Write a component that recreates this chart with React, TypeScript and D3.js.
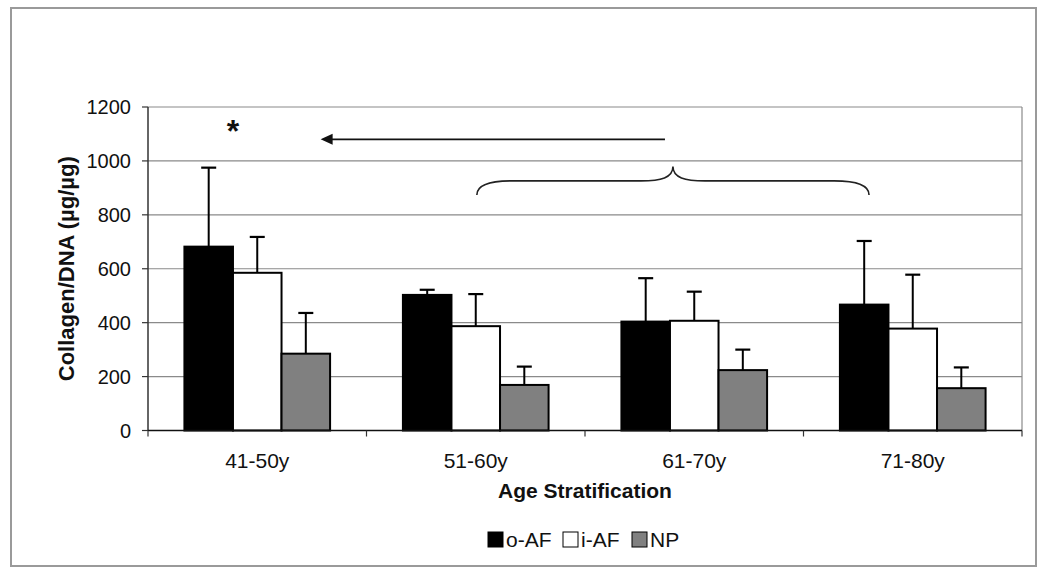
import React from "react";
import * as d3 from "d3";

const categories = ["41-50y", "51-60y", "61-70y", "71-80y"];
const seriesNames = ["o-AF", "i-AF", "NP"];
const oAF = [682, 503, 404, 467];
const oAFErr = [293, 19, 161, 236];
const iAF = [585, 387, 407, 378];
const iAFErr = [133, 119, 108, 200];
const NP = [285, 169, 224, 157];
const NPErr = [151, 68, 76, 77];
const yTicks = [0, 200, 400, 600, 800, 1000, 1200];
const yTitle = "Collagen/DNA (µg/µg)";
const xTitle = "Age Stratification";

// annotations (in data units: x in category-index units, y in value units)
const arrowFrom = { x: 2.366, y: 1080 };
const arrowTo = { x: 0.79, y: 1080 };
const braceSpan = { x0: 1.505, x1: 3.3, yEnd: 874, yMid: 926, yTip: 979 };
const starPos = { x: 0.389, y: 1130 };

const W = 1050;
const H = 581;
const FONT = "'Liberation Sans', Arial, Helvetica, sans-serif";
const colors = ["#000000", "#ffffff", "#808080"];

export default function App() {
  const left = 148;
  const right = 1022;
  const top = 107;
  const bottom = 430.5;
  const x0 = d3.scaleBand<string>().domain(categories).range([left, right]).padding(0);
  const bw = x0.bandwidth();
  const gap = (bw * 1.5) / 4.5;
  const x1 = d3.scaleBand<string>().domain(seriesNames).range([gap / 2, bw - gap / 2]).padding(0);
  const y = d3.scaleLinear().domain([0, 1200]).range([bottom, top]);
  const xc = d3.scaleLinear().domain([0, categories.length]).range([left, right]);

  const data = [
    { name: seriesNames[0], vals: oAF, errs: oAFErr, color: colors[0] },
    { name: seriesNames[1], vals: iAF, errs: iAFErr, color: colors[1] },
    { name: seriesNames[2], vals: NP, errs: NPErr, color: colors[2] },
  ];

  const capW = 15;

  const bx0 = xc(braceSpan.x0);
  const bx1 = xc(braceSpan.x1);
  const bm = (bx0 + bx1) / 2;
  const yE = y(braceSpan.yEnd);
  const yM = y(braceSpan.yMid);
  const yT = y(braceSpan.yTip);
  const bracePath = d3.path();
  bracePath.moveTo(bx0, yE);
  bracePath.bezierCurveTo(bx0, yM + 4, bx0 + 12, yM, bx0 + 35, yM);
  bracePath.lineTo(bm - 32, yM);
  bracePath.bezierCurveTo(bm - 12, yM, bm, yM - 3, bm, yT);
  bracePath.bezierCurveTo(bm, yM - 3, bm + 12, yM, bm + 32, yM);
  bracePath.lineTo(bx1 - 35, yM);
  bracePath.bezierCurveTo(bx1 - 12, yM, bx1, yM + 4, bx1, yE);

  const ax0 = xc(arrowFrom.x);
  const ax1 = xc(arrowTo.x);
  const ay = y(arrowFrom.y);

  const legendItems = [
    { name: seriesNames[0], color: colors[0], x: 488 },
    { name: seriesNames[1], color: colors[1], x: 563 },
    { name: seriesNames[2], color: colors[2], x: 632 },
  ];

  return (
    <svg
      width={W}
      height={H}
      style={{ position: "absolute", left: 0, top: 0, background: "#fff" }}
      fontFamily={FONT}
    >
      <rect x={0} y={0} width={W} height={H} fill="#fff" />
      <rect x={11} y={8} width={1025} height={558} fill="none" stroke="#9a9a9a" strokeWidth={2} />

      {yTicks.map((t) => (
        <line key={"g" + t} x1={left} x2={right} y1={y(t)} y2={y(t)} stroke="#8a8a8a" strokeWidth={1.2} />
      ))}
      <line x1={right} x2={right} y1={top} y2={bottom} stroke="#8a8a8a" strokeWidth={1.2} />

      {data.map((s) =>
        categories.map((c, i) => {
          const bx = (x0(c) as number) + (x1(s.name) as number);
          const w = x1.bandwidth();
          const v = s.vals[i];
          const e = s.errs[i];
          const cx = bx + w / 2;
          return (
            <g key={s.name + c}>
              <line x1={cx} x2={cx} y1={y(v)} y2={y(v + e)} stroke="#000" strokeWidth={2} />
              <line x1={cx - capW / 2} x2={cx + capW / 2} y1={y(v + e)} y2={y(v + e)} stroke="#000" strokeWidth={2.2} />
              <rect x={bx} y={y(v)} width={w} height={y(0) - y(v)} fill={s.color} stroke="#000" strokeWidth={2} />
            </g>
          );
        })
      )}

      <line x1={left} x2={left} y1={top} y2={bottom} stroke="#333" strokeWidth={1.5} />
      <line x1={left} x2={right} y1={bottom} y2={bottom} stroke="#111" strokeWidth={1.5} />
      {yTicks.map((t) => (
        <g key={"yt" + t}>
          <line x1={left - 6} x2={left} y1={y(t)} y2={y(t)} stroke="#333" strokeWidth={1.2} />
          <text x={131} y={y(t)} dy="0.35em" textAnchor="end" fontSize={20} fill="#111">
            {t}
          </text>
        </g>
      ))}
      {d3.range(categories.length + 1).map((i) => (
        <line key={"xt" + i} x1={xc(i)} x2={xc(i)} y1={bottom} y2={bottom + 6} stroke="#333" strokeWidth={1.2} />
      ))}
      {categories.map((c) => (
        <text key={"xl" + c} x={(x0(c) as number) + bw / 2} y={468} textAnchor="middle" fontSize={21} fill="#111">
          {c}
        </text>
      ))}

      <text x={(left + right) / 2} y={498} textAnchor="middle" fontSize={21} fontWeight="bold" fill="#111">
        {xTitle}
      </text>
      <text
        transform={`translate(74,${(top + bottom) / 2}) rotate(-90)`}
        textAnchor="middle"
        fontSize={22}
        fontWeight="bold"
        fill="#111"
      >
        {yTitle}
      </text>

      <text x={xc(starPos.x)} y={y(starPos.y) + 16} textAnchor="middle" fontSize={32} fontWeight="bold" fill="#111">
        *
      </text>
      <line x1={ax0} x2={ax1 + 10} y1={ay} y2={ay} stroke="#111" strokeWidth={1.6} />
      <path d={`M${ax1},${ay} L${ax1 + 12},${ay - 5.5} L${ax1 + 12},${ay + 5.5} Z`} fill="#111" />
      <path d={bracePath.toString()} fill="none" stroke="#222" strokeWidth={1.6} />

      {legendItems.map((l) => (
        <g key={"lg" + l.name}>
          <rect x={l.x} y={532} width={15} height={15} fill={l.color} stroke="#000" strokeWidth={1} />
          <text x={l.x + 18} y={547} fontSize={21} fill="#111">
            {l.name}
          </text>
        </g>
      ))}
    </svg>
  );
}
